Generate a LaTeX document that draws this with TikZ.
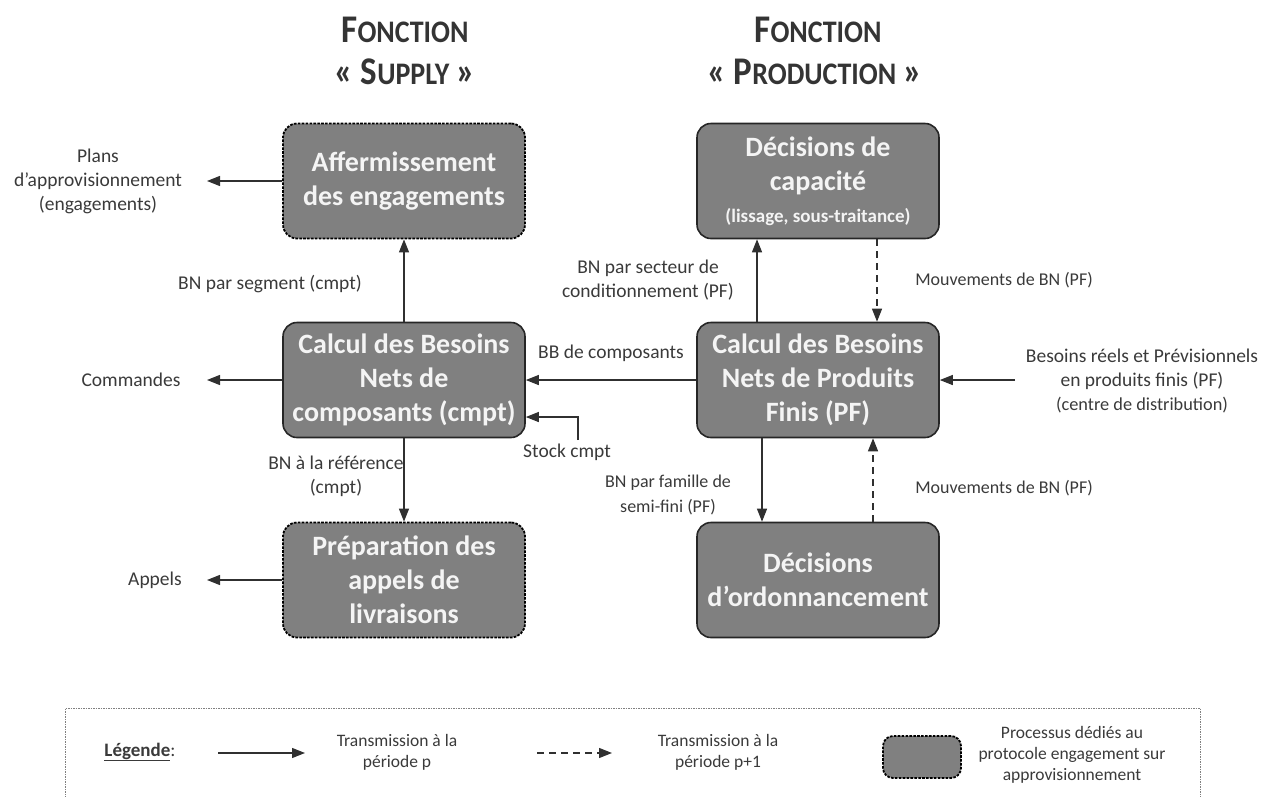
\documentclass[tikz,border=0pt]{standalone}
\usepackage{fontspec}
\setmainfont{Carlito}
\usetikzlibrary{arrows.meta}
\definecolor{boxfill}{HTML}{808080}
\definecolor{boxdraw}{HTML}{262626}
\definecolor{txt}{HTML}{3A3A3A}
\definecolor{ln}{HTML}{303030}
\definecolor{boxtxt}{HTML}{F4F4F4}
\newcommand{\tcap}[1]{{\fontsize{35}{40}\selectfont #1}}
\newcommand{\tsm}[1]{{\fontsize{28}{40}\selectfont #1}}
\newcommand{\ttlsc}[1]{\scalebox{1}[1.12]{#1}}
\begin{document}
\begin{tikzpicture}[x=1pt,y=-1pt,
  proc/.style={draw=boxdraw, line width=1.6pt, fill=boxfill, rounded corners=14pt,
    minimum width=242pt, minimum height=115pt, inner sep=0pt, align=center,
    text=boxtxt, font=\fontsize{28}{34}\selectfont\bfseries},
  procdash/.style={proc, draw=black, line width=1.8pt, dash pattern=on 2.6pt off 1.3pt},
  lbl/.style={text=txt, align=center, font=\fontsize{19.5}{24}\selectfont, inner sep=0pt},
  slbl/.style={lbl, font=\fontsize{18}{25}\selectfont},
  leg/.style={text=txt, align=center, font=\fontsize{17.5}{21}\selectfont, inner sep=0pt},
  arr/.style={draw=ln, line width=1.2pt, -{Triangle[length=13pt,width=10pt]}},
  darr/.style={arr, dash pattern=on 7pt off 5pt},
  ttl/.style={text=txt!90!black, inner sep=0pt, font=\bfseries}
]
\useasboundingbox (0,0) rectangle (1276,796);

% titles
\node[ttl] (t1a) at (405,30) {\ttlsc{\tcap{F}\tsm{ONCTION}}};
\node[ttl] (t1b) at (405,72) {\ttlsc{\tcap{«}\hspace{7pt}\tcap{S}\tsm{UPPLY}\hspace{7pt}\tcap{»}}};
\node[ttl] (t2a) at (818,30) {\ttlsc{\tcap{F}\tsm{ONCTION}}};
\node[ttl] (t2b) at (815,72) {\ttlsc{\tcap{«}\hspace{7pt}\tcap{P}\tsm{RODUCTION}\hspace{7pt}\tcap{»}}};

% process boxes
\node[procdash] (aff) at (404,181) {Affermissement\\des engagements};
\node[proc] (cap) at (818,181) {Décisions de\\capacité\\[-2pt]{\fontsize{19}{24}\selectfont (lissage, sous-traitance)}};
\node[proc] (cmpt) at (404,380) {Calcul des Besoins\\Nets de\\composants (cmpt)};
\node[proc] (pf) at (818,380) {Calcul des Besoins\\Nets de Produits\\Finis (PF)};
\node[procdash] (prep) at (404,580) {Préparation des\\appels de\\livraisons};
\node[proc] (ord) at (818,580) {Décisions\\d’ordonnancement};

% outside texts
\node[lbl] (plans) at (98,181) {Plans\\d’approvisionnement\\(engagements)};
\node[lbl] (cmd) at (131,380) {Commandes};
\node[lbl] (app) at (155,580) {Appels};
\node[lbl] (besoins) at (1142,381) {Besoins réels et Prévisionnels\\en produits finis (PF)\\{\fontsize{18.3}{24}\selectfont (centre de distribution)}};
\coordinate (plansend) at (207,181);
\coordinate (cmdend) at (207,380);
\coordinate (append) at (207,580);
\coordinate (besstart) at (1015,380);

% connectors
\draw[arr] (aff.west) -- (plansend);
\draw[arr] (cmpt.west) -- (cmdend);
\draw[arr] (prep.west) -- (append);
\draw[arr] (cmpt.north) -- (aff.south);
\draw[arr] (cmpt.south) -- (prep.north);
\draw[arr] (pf.west) -- (cmpt.east);
\draw[arr] (besstart) -- (pf.east);

\node[lbl] (stock) at (567,452) {Stock cmpt};
\coordinate (stkstart) at (578,440);
\draw[arr] (stkstart) |- ([yshift=-37pt]cmpt.east);

\draw[arr] ([xshift=-61pt]pf.north) -- ([xshift=-61pt]cap.south);
\draw[darr] ([xshift=59pt]cap.south) -- ([xshift=59pt]pf.north);
\draw[arr] ([xshift=-56pt]pf.south) -- ([xshift=-56pt]ord.north);
\draw[darr] ([xshift=55pt]ord.north) -- ([xshift=55pt]pf.south);

% labels
\node[lbl] (l1) at (270,284) {BN par segment (cmpt)};
\node[lbl] (l2) at (336,476) {BN à la référence\\(cmpt)};
\node[lbl] (l3) at (611,353) {BB de composants};
\node[lbl] (l4) at (648,280) {BN par secteur de\\conditionnement (PF)};
\node[slbl] (l5) at (1004,280) {Mouvements de BN (PF)};
\node[slbl] (l6) at (668,495) {BN par famille de\\semi-fini (PF)};
\node[slbl] (l7) at (1004,488) {Mouvements de BN (PF)};

% legend
\coordinate (lgA) at (65,800);
\coordinate (lgB) at (65,708);
\coordinate (lgC) at (1200,708);
\coordinate (lgD) at (1200,800);
\draw[draw=gray, line width=1pt, dash pattern=on 1.5pt off 1pt] (lgA) -- (lgB) -- (lgC) -- (lgD);
\node[leg, font=\fontsize{19}{21}\selectfont] (lgt) at (140,752) {\underline{\textbf{Légende}}:};
\coordinate (ls1) at (218,753);
\coordinate (le1) at (305,753);
\draw[arr] (ls1) -- (le1);
\node[leg] (lt1) at (397,752) {Transmission à la\\période p};
\coordinate (ls2) at (537,753);
\coordinate (le2) at (612,753);
\draw[darr] (ls2) -- (le2);
\node[leg] (lt2) at (718,752) {Transmission à la\\période p+1};
\node[procdash, minimum width=78pt, minimum height=42pt, rounded corners=10pt] (lbox) at (922,757) {};
\node[leg] (lt3) at (1072,755) {Processus dédiés au\\protocole engagement sur\\approvisionnement};
\end{tikzpicture}
\end{document}
